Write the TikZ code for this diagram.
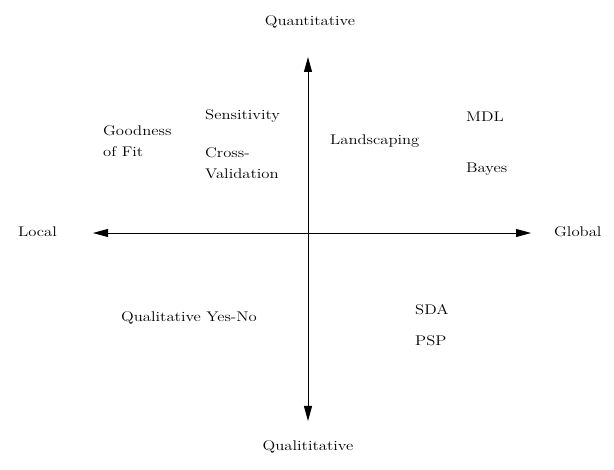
\documentclass[tikz,border=0pt]{standalone}
\usepackage{fontspec}
\setmainfont{Latin Modern Roman}[FakeStretch=1.19]
\usetikzlibrary{arrows.meta}
\begin{document}
\begin{tikzpicture}[x=1pt,y=-1pt,
  lbl/.style={font=\fontsize{14}{21}\selectfont, inner sep=0pt, align=left},
  axis/.style={line width=0.9pt, {Triangle[length=15pt,width=8pt]}-{Triangle[length=15pt,width=8pt]}}]
\useasboundingbox (0,0) rectangle (614,470);
\coordinate (L) at (93,233);
\coordinate (R) at (531,233);
\coordinate (T) at (308,57);
\coordinate (B) at (308,421);
\draw[axis] (L) -- (R);
\draw[axis] (T) -- (B);
\node[lbl] (quant) at (310,22) {Quantitative};
\node[lbl] (qual) at (308,447) {Qualititative};
\node[lbl, anchor=west] (local) at (18,232) {Local};
\node[lbl, anchor=west] (global) at (554,232) {Global};
\node[lbl, anchor=west] (gof) at (103,141) {Goodness\\of Fit};
\node[lbl, anchor=west] (sens) at (205,116) {Sensitivity};
\node[lbl, anchor=west] (cv) at (205,163) {Cross-\\Validation};
\node[lbl, anchor=west] (land) at (330,141) {Landscaping};
\node[lbl, anchor=west] (mdl) at (466,117) {MDL};
\node[lbl, anchor=west] (bayes) at (466,169) {Bayes};
\node[lbl, anchor=west] (yesno) at (121,318) {Qualitative Yes-No};
\node[lbl, anchor=west] (sda) at (415,310) {SDA};
\node[lbl, anchor=west] (psp) at (415,341) {PSP};
\end{tikzpicture}
\end{document}
